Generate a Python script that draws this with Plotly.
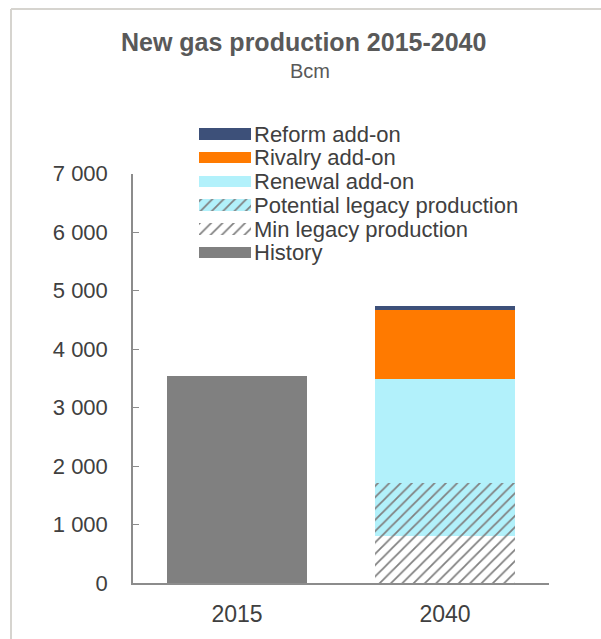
import plotly.graph_objects as go

# ---- data (Bcm) ----
years = ["2015", "2040"]
history = [3540, None]
min_legacy = [None, 800]
potential_legacy = [None, 915]
renewal_addon = [None, 1775]
rivalry_addon = [None, 1175]
reform_addon = [None, 70]

y_ticks = [0, 1000, 2000, 3000, 4000, 5000, 6000, 7000]
y_tick_text = ["0", "1 000", "2 000", "3 000", "4 000", "5 000", "6 000", "7 000"]

# series in stacking order (bottom to top)
series = [
    dict(name="History", values=history, color="#808080", pattern=""),
    dict(name="Min legacy production", values=min_legacy, color="#ffffff", pattern="/"),
    dict(name="Potential legacy production", values=potential_legacy, color="#b2f1fb", pattern="/"),
    dict(name="Renewal add-on", values=renewal_addon, color="#b2f1fb", pattern=""),
    dict(name="Rivalry add-on", values=rivalry_addon, color="#ff7a00", pattern=""),
    dict(name="Reform add-on", values=reform_addon, color="#3d5079", pattern=""),
]

FONT = "Liberation Sans, Arial, sans-serif"
W, H = 601, 639
ML, MR, MT, MB = 133, 52, 110, 54
PW, PH = W - ML - MR, H - MT - MB


def px_x(p):
    return (p - ML) / PW


def px_y(p):
    return (H - MB - p) / PH


def marker_for(s):
    m = dict(color=s["color"], line=dict(width=0))
    if s["pattern"]:
        m["pattern"] = dict(shape=s["pattern"], fgcolor="#808080",
                            bgcolor=s["color"], size=8, solidity=0.22,
                            fillmode="replace")
    return m


fig = go.Figure()

# main stacked columns
for s in series:
    fig.add_trace(go.Bar(x=years, y=s["values"], name=s["name"],
                         marker=marker_for(s), showlegend=False,
                         xaxis="x", yaxis="y"))

# key: one swatch per series, labelled by the right-hand category axis
legend_order = [s["name"] for s in reversed(series)]
for s in series:
    fig.add_trace(go.Bar(y=[s["name"]], x=[1], orientation="h", width=0.48,
                         marker=marker_for(s), showlegend=False,
                         hoverinfo="skip", xaxis="x2", yaxis="y2"))

fig.update_layout(
    width=W, height=H,
    margin=dict(l=ML, r=MR, t=MT, b=MB),
    paper_bgcolor="white", plot_bgcolor="rgba(0,0,0,0)",
    barmode="stack", bargap=0.33,
    font=dict(family=FONT, color="#404040"),
    xaxis=dict(domain=[0, 1], anchor="y", type="category",
               showline=True, linecolor="#8c8c8c", linewidth=2,
               ticks="", tickfont=dict(size=23, color="#404040"),
               ticklabelstandoff=9, showgrid=False, zeroline=False),
    yaxis=dict(domain=[0, px_y(174)], anchor="x", range=[0, 7000],
               tickvals=y_ticks, ticktext=y_tick_text,
               showline=True, linecolor="#8c8c8c", linewidth=1.5,
               ticks="inside", ticklen=6, tickcolor="#8c8c8c",
               tickfont=dict(size=22, color="#404040"),
               ticklabelstandoff=19, showgrid=False, zeroline=False),
    xaxis2=dict(domain=[px_x(199), px_x(251)], anchor="y2", range=[0, 1],
                visible=False, fixedrange=True),
    yaxis2=dict(domain=[px_y(265.2), px_y(122.1)], anchor="x2", side="right",
                type="category", categoryorder="array",
                categoryarray=list(reversed(legend_order)),
                tickmode="array", tickvals=legend_order, ticktext=legend_order,
                showline=False, showgrid=False, zeroline=False, ticks="",
                tickfont=dict(size=22, color="#404040"),
                ticklabelstandoff=2, fixedrange=True),
    annotations=[
        dict(text="<b>New gas production 2015-2040</b>", xref="paper", yref="paper",
             x=px_x(303), y=px_y(42), xanchor="center", yanchor="middle",
             showarrow=False, font=dict(size=25, color="#595959", family=FONT)),
        dict(text="Bcm", xref="paper", yref="paper",
             x=px_x(310), y=px_y(71), xanchor="center", yanchor="middle",
             showarrow=False, font=dict(size=20, color="#595959", family=FONT)),
    ],
    shapes=[
        dict(type="line", xref="paper", yref="paper", x0=px_x(11), x1=px_x(W + 20),
             y0=px_y(8.5), y1=px_y(8.5), line=dict(color="#d6d4cf", width=2)),
        dict(type="line", xref="paper", yref="paper", x0=px_x(11), x1=px_x(11),
             y0=px_y(8.5), y1=px_y(H + 20), line=dict(color="#d6d4cf", width=2)),
    ],
)

fig.write_html("out.html")
